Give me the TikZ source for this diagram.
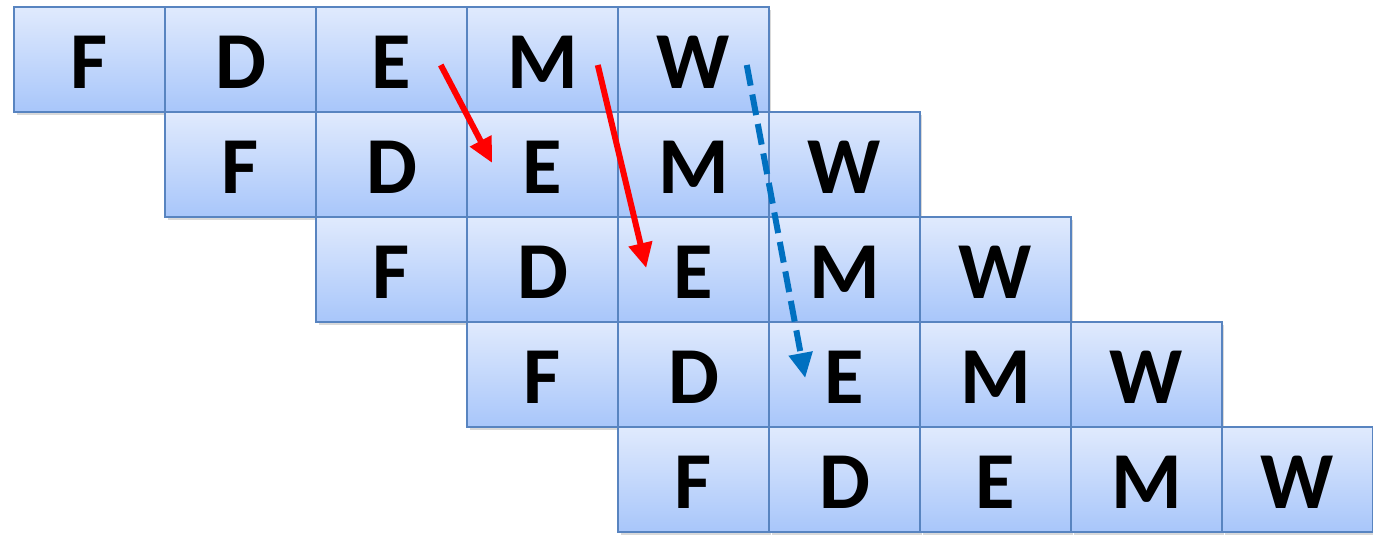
\documentclass[tikz,border=0pt]{standalone}
\usepackage{fontspec}
\setmainfont{Carlito}
\usepackage{tikz}
\usetikzlibrary{arrows.meta, shadows}
\definecolor{celltop}{RGB}{224,234,253}
\definecolor{cellbot}{RGB}{168,198,250}
\definecolor{cellline}{RGB}{88,132,192}
\definecolor{fwdblue}{RGB}{0,112,192}
\begin{document}
\begin{tikzpicture}[
  x=0.02cm, y=-0.02cm,
  font=\fontsize{46}{46}\selectfont\bfseries,
  cell/.style={draw=cellline, line width=0.9pt, top color=celltop, bottom color=cellbot,
    minimum width=3.02cm, minimum height=2.1cm, inner sep=0pt, text height=1.16cm, text depth=0pt,
    drop shadow={shadow xshift=0.05cm, shadow yshift=-0.06cm, opacity=0.3}},
  stall/.style={red, line width=0.12cm, -{Triangle[length=0.5cm, width=0.46cm]}},
  fwd/.style={fwdblue, line width=0.12cm, dash pattern=on 0.42cm off 0.18cm,
    -{Triangle[length=0.5cm, width=0.46cm]}}
]
\useasboundingbox (0,0) rectangle (1373,535);
% pipeline stages, one row per instruction
\foreach \r in {0,...,4} {
  \foreach \c/\txt in {0/F,1/D,2/E,3/M,4/W} {
    \node[cell] (s\r\c) at ({89.5+151*(\r+\c)}, {59.5+105*\r}) {\txt};
  }
}
% forwarding paths
\draw[stall] ([xshift=-0.54cm, yshift=-0.11cm]s02.east) -- ([xshift=0.52cm, yshift=0.03cm]s12.west);
\draw[stall] ([xshift=-0.42cm, yshift=-0.11cm]s03.east) -- ([xshift=0.58cm, yshift=0.03cm]s22.west);
\draw[fwd] ([xshift=-0.46cm, yshift=-0.11cm]s04.east) -- ([xshift=0.74cm, yshift=-0.07cm]s32.west);
\end{tikzpicture}
\end{document}
